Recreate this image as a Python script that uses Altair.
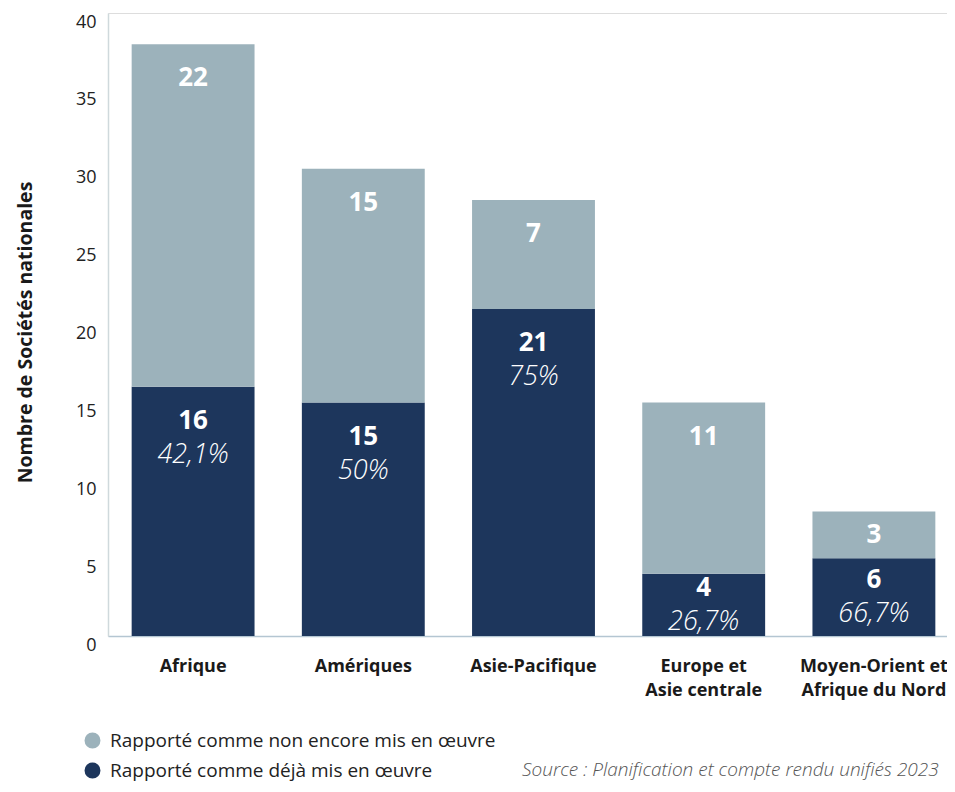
import altair as alt
import pandas as pd

categories = ["Afrique", "Amériques", "Asie-Pacifique",
              "Europe et Asie centrale", "Moyen-Orient et Afrique du Nord"]
implemented = [16, 15, 21, 4, 5]          # bar heights as drawn
not_yet = [22, 15, 7, 11, 3]
implemented_labels = ["16", "15", "21", "4", "6"]
not_yet_labels = ["22", "15", "7", "11", "3"]
percent_labels = ["42,1%", "50%", "75%", "26,7%", "66,7%"]

S_NOT = "Rapporté comme non encore mis en œuvre"
S_DONE = "Rapporté comme déjà mis en œuvre"
DARK = "#1d365c"
LIGHT = "#9cb2bb"

rows = []
for i, c in enumerate(categories):
    rows.append(dict(cat=c, status=S_DONE, y0=0, y1=implemented[i],
                     lab=implemented_labels[i], pct=percent_labels[i]))
    rows.append(dict(cat=c, status=S_NOT, y0=implemented[i],
                     y1=implemented[i] + not_yet[i],
                     lab=not_yet_labels[i], pct=""))
df = pd.DataFrame(rows)
src = pd.DataFrame({"t": ["Source : Planification et compte rendu unifiés 2023"]})

FONT = "Open Sans"

x_enc = alt.X("cat:N", sort=categories, title=None,
              scale=alt.Scale(paddingInner=0.278, paddingOuter=0.139, range=[0, 851]),
              axis=alt.Axis(labelExpr="split(replace(datum.label, ' et ', ' et|'), '|')",
                            labelAngle=0, labelFontSize=18, labelFontWeight="bold",
                            labelColor="#1a1a1a", labelPadding=21, labelLineHeight=24,
                            ticks=False, domainColor="#b4c6d2", domainWidth=1.5,
                            labelFont=FONT, labelLimit=300))
y_scale = alt.Scale(domain=[0, 40], nice=False)

base = alt.Chart(df)

bars = base.mark_bar(opacity=1).encode(
    x=x_enc,
    y=alt.Y("y0:Q", scale=y_scale,
            title="Nombre de Sociétés nationales",
            axis=alt.Axis(values=list(range(0, 41, 5)), grid=False, ticks=False,
                          labelFontSize=18, labelColor="#222", labelPadding=12,
                          labelOffset=9, domainColor="#cfd9dc", domainWidth=1.5,
                          titleFontSize=19.5, titleFontWeight="bold", titleColor="#1a1a1a",
                          titleX=-83, titleY=319, titleBaseline="middle",
                          labelFont=FONT, titleFont=FONT)),
    y2="y1:Q",
    color=alt.Color("status:N",
                    scale=alt.Scale(domain=[S_NOT, S_DONE], range=[LIGHT, DARK]),
                    legend=alt.Legend(title=None, orient="none", legendX=-25, legendY=718,
                                      direction="vertical", symbolType="circle",
                                      symbolSize=254, symbolStrokeWidth=0,
                                      symbolOpacity=1, labelFontSize=19,
                                      labelColor="#222", rowPadding=10, labelOffset=8,
                                      labelFont=FONT, labelLimit=600)),
)

light_txt = base.transform_filter(alt.datum.status == S_NOT).transform_calculate(
    ypos="max(datum.y1 - 2.2, (datum.y0 + datum.y1) / 2)"
).mark_text(color="white", fontSize=26, fontWeight="bold", font=FONT,
            baseline="middle").encode(
    x=alt.X("cat:N", sort=categories),
    y=alt.Y("ypos:Q", scale=y_scale),
    text="lab:N",
)

dark_base = base.transform_filter(alt.datum.status == S_DONE).transform_calculate(
    ypos="max(datum.y1 - 2.2, (datum.y0 + datum.y1) / 2 + 1.07)"
)
dark_num = dark_base.mark_text(color="white", fontSize=26, fontWeight="bold",
                               font=FONT, baseline="middle").encode(
    x=alt.X("cat:N", sort=categories),
    y=alt.Y("ypos:Q", scale=y_scale),
    text="lab:N",
)
dark_pct = dark_base.mark_text(color="white", fontSize=27, fontStyle="italic",
                               fontWeight=300, font=FONT, baseline="middle",
                               dy=34).encode(
    x=alt.X("cat:N", sort=categories),
    y=alt.Y("ypos:Q", scale=y_scale),
    text="pct:N",
)

source = alt.Chart(src).mark_text(align="left", baseline="middle", fontSize=19,
                                  fontStyle="italic", fontWeight=300, font=FONT,
                                  color="#555").encode(
    x=alt.value(414), y=alt.value(757), text="t:N"
)

chart = alt.layer(bars, light_txt, dark_num, dark_pct, source).properties(
    width=839, height=623,
    padding={"left": 100, "top": 5, "right": 0, "bottom": 148},
    autosize=alt.AutoSizeParams(type="none"),
).configure_view(stroke=None).configure(font=FONT)

chart.save("out.html", embed_options={"renderer": "svg", "actions": False})
